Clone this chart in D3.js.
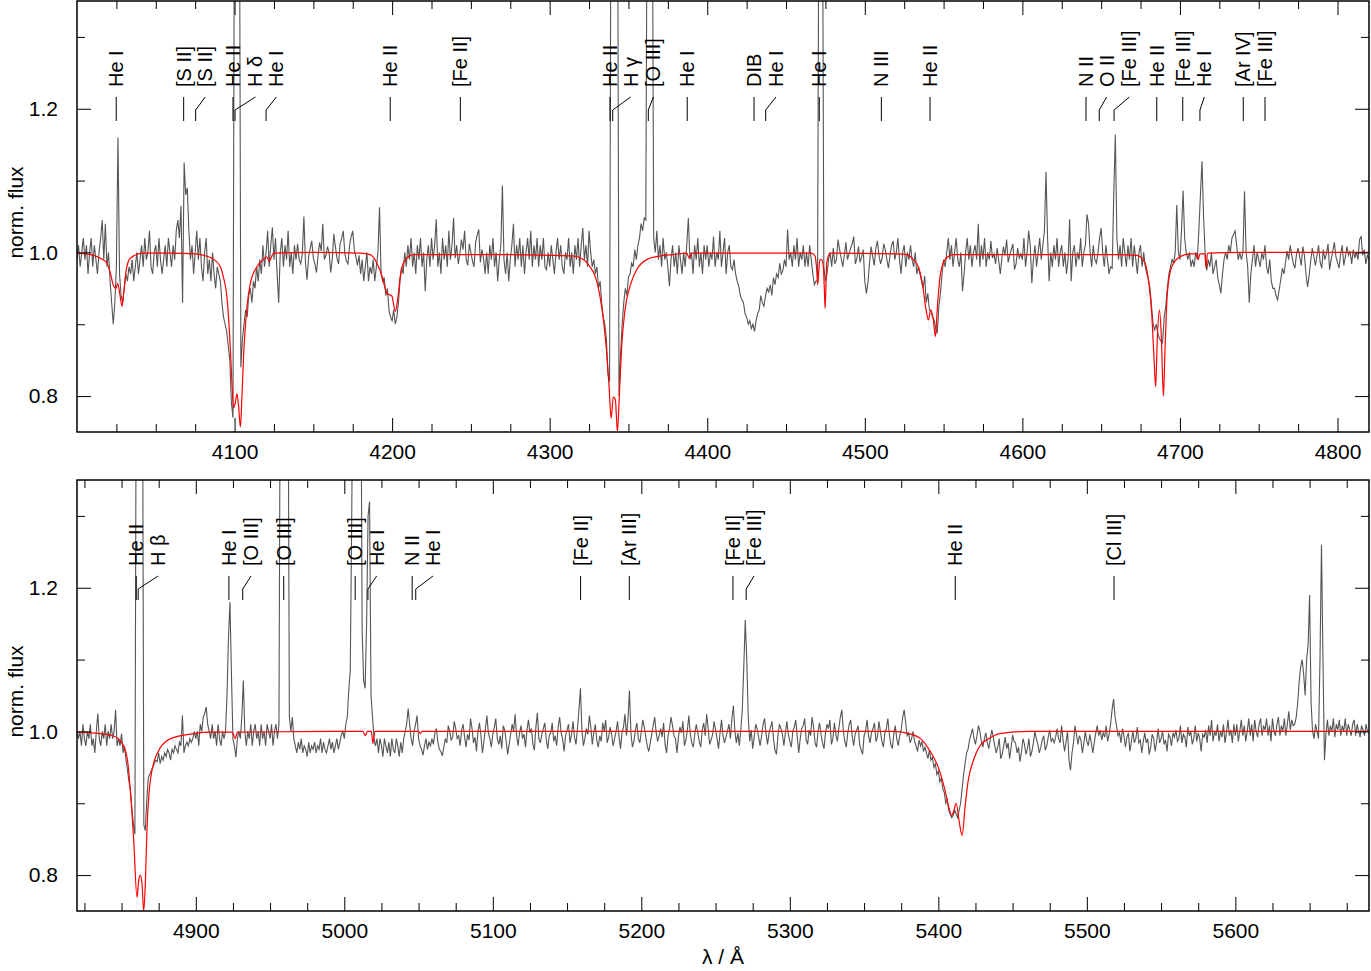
<!DOCTYPE html>
<html>
<head>
<meta charset="utf-8">
<script src="https://cdn.jsdelivr.net/npm/d3@7"></script>
<style>
  body { margin: 0; background: #fff; }
  svg { display: block; font-family: "Liberation Sans", Arial, Helvetica, sans-serif; }
</style>
</head>
<body>
<svg id="chart" width="1371" height="971"></svg>
<script>
// observed spectrum, one value per 1 A from the panel start (20 A per row)
var top_start = 4000;
var top_step = 1;
var top_flux = [
  0.99, 1.01, 0.98, 1.00, 1.02, 0.99, 1.01, 0.97, 1.00, 1.02, 0.98, 1.01, 0.99, 0.97, 1.00, 1.02, 1.045, 0.99, 1.04, 0.98,
  1.00, 0.96, 0.93, 0.90, 0.93, 0.98, 1.16, 0.97, 0.94, 0.93, 0.95, 0.97, 0.96, 0.98, 0.97, 0.99, 0.96, 0.98, 1.00, 0.97,
  0.99, 1.01, 0.98, 1.02, 0.99, 1.00, 1.03, 0.98, 0.97, 1.00, 1.01, 0.98, 1.02, 0.99, 0.97, 0.99, 1.01, 0.98, 1.02, 1.00,
  0.98, 1.01, 0.99, 1.03, 1.045, 1.02, 1.065, 0.93, 1.125, 1.08, 1.09, 1.03, 0.99, 1.01, 0.97, 1.00, 1.03, 0.99, 1.02, 0.98,
  0.96, 1.00, 1.02, 0.97, 0.99, 0.96, 1.00, 0.97, 0.95, 0.98, 0.97, 0.96, 0.93, 0.91, 0.90, 0.89, 0.87, 0.85, 0.79, 0.77,
  1.60, 1.60, 1.60, 1.60, 0.84, 0.88, 0.90, 0.92, 0.91, 0.94, 0.95, 0.93, 0.96, 0.95, 0.98, 0.96, 0.99, 0.97, 1.01, 0.98,
  1.00, 1.03, 0.98, 1.01, 1.035, 0.99, 1.02, 0.97, 0.93, 1.00, 1.02, 0.98, 1.01, 0.99, 1.03, 0.98, 1.00, 0.97, 1.01, 0.99,
  1.012, 0.990, 0.984, 0.998, 1.050, 0.986, 0.962, 0.994, 1.006, 1.016, 0.992, 0.984, 0.972, 0.996, 1.014, 1.002, 1.040, 0.990, 0.996, 1.008,
  1.000, 0.972, 0.990, 1.026, 1.008, 0.992, 0.984, 1.012, 1.020, 1.030, 0.998, 0.988, 0.984, 1.010, 1.022, 1.030, 1.004, 0.994, 0.982, 0.996,
  0.97, 0.99, 0.96, 0.98, 1.00, 0.96, 0.98, 0.97, 0.99, 0.96, 0.98, 1.00, 1.063, 0.97, 0.96, 0.965, 0.94, 0.95, 0.92, 0.91,
  0.905, 0.92, 0.90, 0.91, 0.93, 0.96, 0.98, 0.97, 1.00, 0.98, 1.01, 0.99, 1.02, 0.98, 1.00, 0.97, 1.01, 0.99, 1.02, 0.98,
  1.00, 0.946, 0.99, 1.01, 0.98, 1.02, 0.99, 1.01, 1.046, 0.98, 1.00, 0.97, 1.02, 0.99, 1.01, 0.98, 1.03, 0.99, 1.01, 1.048,
  0.992, 1.010, 0.984, 0.998, 1.018, 1.004, 1.030, 0.990, 0.982, 1.012, 1.000, 0.988, 0.980, 1.014, 1.024, 1.032, 0.986, 1.004, 0.992, 0.970,
  1.00, 0.97, 1.01, 0.99, 1.02, 0.98, 1.00, 0.96, 0.99, 1.01, 1.093, 0.99, 0.97, 1.00, 0.96, 0.99, 1.01, 1.04, 0.98, 1.01,
  0.99, 1.02, 0.98, 1.01, 0.97, 1.00, 1.02, 0.99, 1.03, 0.98, 1.01, 0.99, 1.02, 0.98, 1.01, 0.99, 1.02, 0.98, 0.976, 1.00,
  0.98, 1.01, 0.99, 0.97, 1.00, 1.02, 0.99, 1.01, 0.98, 0.97, 1.00, 0.99, 1.02, 0.98, 1.00, 0.97, 1.01, 0.99, 1.02, 0.98,
  1.01, 1.034, 0.99, 1.01, 0.98, 1.03, 1.00, 0.98, 0.99, 0.97, 0.98, 0.95, 0.96, 0.93, 0.91, 0.90, 0.88, 0.83, 0.82, 1.60,
  1.60, 1.60, 1.60, 1.60, 0.80, 0.86, 0.90, 0.93, 0.95, 0.94, 0.966, 0.97, 0.985, 0.98, 1.004, 0.99, 1.01, 1.02, 1.04, 1.03,
  1.048, 1.045, 1.60, 1.60, 1.60, 1.60, 1.02, 1.00, 1.03, 0.99, 1.01, 0.98, 1.02, 0.99, 1.00, 0.98, 0.953, 0.99, 1.01, 0.98,
  1.00, 0.97, 1.01, 0.99, 0.97, 1.00, 0.98, 1.01, 1.048, 0.99, 1.00, 0.97, 1.01, 0.99, 1.02, 0.98, 1.00, 0.97, 1.01, 0.99,
  1.01, 0.98, 1.00, 0.99, 1.022, 0.98, 1.00, 0.99, 1.03, 0.98, 1.00, 1.02, 0.97, 1.00, 1.01, 0.98, 0.976, 0.99, 0.97, 0.96,
  0.953, 0.94, 0.934, 0.93, 0.915, 0.91, 0.90, 0.905, 0.894, 0.90, 0.89, 0.905, 0.915, 0.92, 0.94, 0.93, 0.925, 0.94, 0.95, 0.945,
  0.955, 0.94, 0.965, 0.955, 0.97, 0.965, 0.985, 0.97, 0.975, 0.99, 0.98, 1.032, 0.99, 1.00, 0.98, 1.01, 0.99, 1.02, 0.98, 1.00,
  0.99, 1.01, 0.98, 1.00, 0.98, 1.01, 0.99, 0.97, 0.955, 0.96, 0.96, 1.60, 1.60, 1.60, 0.98, 0.96, 0.97, 0.99, 1.00, 0.98,
  1.006, 0.984, 0.990, 1.018, 1.004, 0.992, 0.980, 0.996, 1.014, 0.990, 0.998, 1.006, 1.012, 1.022, 0.984, 0.992, 1.008, 0.986, 0.994, 1.004,
  0.960, 0.943, 0.958, 0.986, 1.008, 0.994, 0.982, 1.006, 1.016, 0.996, 0.984, 0.992, 1.012, 1.004, 0.990, 0.978, 0.996, 1.010, 1.016, 0.990,
  1.00, 1.02, 0.99, 0.97, 1.00, 1.01, 0.98, 1.00, 0.99, 1.01, 0.99, 0.98, 1.00, 0.97, 0.98, 0.97, 0.96, 0.95, 0.967, 0.93,
  0.943, 0.92, 0.918, 0.91, 0.906, 0.894, 0.887, 0.925, 0.943, 0.97, 0.99, 0.98, 1.00, 1.02, 0.99, 1.01, 0.98, 1.00, 1.02, 0.99,
  0.98, 1.00, 0.946, 0.97, 1.00, 1.02, 0.99, 1.01, 0.98, 1.00, 1.01, 0.99, 1.04, 0.98, 1.01, 0.99, 1.02, 0.98, 1.00, 0.99,
  1.016, 0.992, 0.998, 0.984, 1.006, 0.988, 0.970, 0.992, 1.008, 0.996, 1.018, 0.986, 0.996, 1.004, 1.012, 0.976, 0.984, 1.006, 0.992, 0.998,
  0.99, 1.02, 0.98, 1.00, 1.03, 1.01, 0.957, 0.99, 1.01, 0.98, 1.00, 1.02, 0.99, 1.01, 1.03, 1.112, 1.02, 0.96, 1.00, 0.98,
  1.01, 0.99, 1.02, 0.98, 1.00, 1.01, 0.98, 1.00, 0.97, 0.99, 1.046, 0.96, 1.00, 1.01, 0.98, 1.00, 0.99, 1.02, 0.98, 1.00,
  1.01, 1.053, 1.04, 1.00, 0.98, 1.01, 0.99, 0.985, 1.00, 1.02, 1.034, 1.00, 0.98, 1.01, 0.99, 0.97, 0.98, 0.978, 1.08, 1.164,
  1.02, 0.99, 1.01, 0.98, 1.02, 1.00, 0.98, 1.01, 0.99, 1.02, 0.98, 1.01, 0.99, 0.97, 1.00, 1.01, 0.98, 1.00, 0.98, 0.97,
  0.962, 0.95, 0.925, 0.90, 0.892, 0.90, 0.887, 0.88, 0.876, 0.874, 0.91, 0.925, 0.95, 0.97, 0.98, 0.99, 0.985, 1.00, 1.066, 1.00,
  0.99, 1.03, 1.086, 1.02, 1.00, 0.99, 1.00, 0.98, 0.99, 0.98, 1.00, 0.99, 1.03, 1.08, 1.127, 1.05, 1.00, 0.975, 0.99, 0.98,
  1.00, 0.97, 0.98, 0.99, 0.965, 0.955, 0.943, 0.97, 0.99, 1.00, 0.99, 1.01, 1.00, 1.02, 1.025, 1.03, 1.01, 0.99, 1.00, 0.99,
  1.00, 1.085, 1.00, 0.98, 0.93, 0.97, 0.99, 1.01, 0.98, 1.00, 0.99, 0.98, 1.00, 0.99, 1.01, 0.98, 0.97, 0.99, 0.96, 0.95,
  0.950, 0.940, 0.934, 0.948, 0.962, 0.978, 0.970, 0.986, 1.002, 0.990, 1.010, 0.996, 0.984, 0.978, 0.998, 1.006, 0.994, 0.982, 1.008, 0.996,
  0.970, 0.952, 0.968, 0.988, 1.006, 0.994, 0.982, 0.996, 1.010, 0.986, 0.978, 1.004, 0.990, 0.998, 1.012, 0.976, 0.990, 1.002, 1.014, 0.994,
  0.986, 0.978, 0.998, 1.010, 0.982, 0.994, 1.008, 0.996, 1.002, 0.984, 1.004, 0.992, 1.000, 0.990, 1.018, 1.022, 0.996, 1.004, 0.984, 0.996,
  0.990
];

var bottom_start = 4820;
var bottom_step = 1;
var bottom_flux = [
  1.00, 0.99, 1.00, 0.98, 1.01, 0.99, 0.98, 1.00, 0.99, 1.01, 0.98, 0.99, 0.97, 1.00, 1.025, 0.99, 0.98, 1.00, 0.99, 1.01,
  0.98, 1.00, 0.99, 1.01, 0.99, 1.00, 1.03, 0.98, 0.99, 0.98, 0.997, 0.97, 0.98, 0.96, 0.946, 0.93, 0.918, 0.89, 0.871, 0.857,
  1.60, 1.60, 1.60, 1.60, 1.60, 0.87, 0.862, 0.904, 0.936, 0.94, 0.945, 0.95, 0.955, 0.96, 0.958, 0.97, 0.955, 0.965, 0.96, 0.97,
  0.965, 0.975, 0.97, 0.96, 0.975, 0.97, 0.98, 0.975, 0.97, 0.985, 0.98, 1.022, 0.97, 0.98, 0.985, 0.98, 0.99, 0.985, 0.99, 1.00,
  0.99, 1.00, 0.98, 1.01, 1.00, 1.02, 1.025, 1.034, 1.01, 1.00, 0.99, 1.01, 0.99, 1.00, 0.98, 1.01, 0.99, 0.98, 1.00, 0.99,
  1.00, 1.05, 1.13, 1.18, 1.08, 0.99, 0.98, 0.964, 0.99, 1.00, 0.99, 1.02, 1.071, 1.00, 0.98, 1.00, 0.99, 1.01, 0.98, 1.00,
  1.01, 0.99, 1.00, 0.98, 1.01, 0.99, 1.00, 0.98, 1.01, 1.00, 0.99, 1.01, 0.98, 1.00, 1.01, 0.99, 1.01, 1.60, 1.60, 1.60,
  1.60, 1.60, 1.60, 1.02, 1.00, 1.02, 0.99, 0.98, 0.97, 0.985, 0.975, 0.99, 0.97, 0.98, 0.975, 0.965, 0.985, 0.97, 0.98, 0.975,
  0.985, 0.97, 0.98, 0.975, 0.99, 0.97, 0.985, 0.975, 0.97, 0.98, 0.99, 0.975, 0.985, 0.97, 0.98, 0.99, 0.975, 0.985, 0.995, 1.00,
  0.99, 1.01, 1.02, 1.057, 1.085, 1.30, 1.60, 1.60, 1.60, 1.60, 1.60, 1.60, 1.14, 1.071, 1.06, 1.15, 1.30, 1.32, 1.05, 1.02,
  0.99, 0.98, 0.99, 0.97, 0.99, 0.98, 0.965, 0.99, 0.98, 0.97, 0.985, 0.965, 0.99, 0.975, 0.97, 0.99, 0.98, 0.965, 0.985, 0.97,
  0.99, 1.00, 1.01, 1.032, 1.01, 0.99, 0.98, 1.00, 1.01, 1.022, 0.99, 0.98, 0.975, 0.967, 0.98, 0.99, 0.975, 0.985, 0.98, 0.99,
  0.982, 0.998, 1.004, 0.985, 0.975, 0.972, 0.966, 0.978, 0.990, 0.984, 1.008, 1.000, 0.988, 0.992, 1.014, 1.004, 0.990, 0.994, 0.980, 1.002,
  1.010, 0.992, 0.978, 0.996, 0.988, 1.018, 1.004, 0.984, 0.992, 0.972, 1.000, 1.012, 0.994, 0.970, 0.986, 1.004, 1.022, 0.998, 0.990, 0.978,
  0.996, 1.006, 1.018, 0.990, 0.982, 0.994, 0.976, 1.008, 1.002, 0.986, 0.968, 0.982, 0.996, 1.010, 1.000, 1.024, 0.994, 0.980, 0.998, 1.008,
  0.990, 0.996, 0.978, 1.002, 1.016, 0.998, 1.004, 0.982, 0.974, 1.006, 1.026, 0.990, 0.984, 0.996, 1.004, 1.012, 0.988, 0.976, 0.994, 0.998,
  1.012, 0.986, 0.994, 0.980, 1.006, 1.020, 0.998, 0.990, 0.972, 0.994, 1.002, 1.010, 0.984, 0.996, 1.014, 0.992, 0.982, 1.004, 1.030, 1.060,
  1.002, 0.980, 0.990, 1.004, 0.996, 1.022, 1.006, 0.982, 0.998, 1.010, 0.988, 0.978, 0.994, 0.986, 1.012, 1.000, 1.016, 0.984, 0.992, 1.006,
  0.996, 0.980, 0.990, 1.000, 1.014, 0.992, 0.976, 0.998, 1.006, 1.024, 0.994, 1.016, 1.057, 0.998, 0.978, 0.986, 1.002, 1.012, 0.990, 0.984,
  1.000, 1.016, 1.006, 0.992, 0.980, 0.972, 0.984, 0.996, 1.008, 1.020, 0.998, 0.986, 0.994, 1.004, 0.992, 1.012, 0.982, 0.970, 0.994, 1.004,
  1.020, 1.008, 0.994, 0.990, 0.970, 0.992, 1.006, 0.998, 1.014, 0.980, 0.988, 1.002, 1.022, 0.996, 0.984, 0.978, 0.996, 1.010, 0.998, 0.986,
  0.978, 1.002, 1.012, 0.994, 1.024, 1.004, 0.982, 0.988, 0.996, 1.014, 1.002, 0.990, 0.976, 0.998, 1.016, 0.994, 0.984, 0.992, 1.000, 1.010,
  0.990, 1.018, 1.036, 1.000, 0.984, 0.998, 0.980, 1.002, 1.030, 1.090, 1.155, 1.100, 1.020, 0.986, 1.002, 0.976, 0.992, 1.010, 1.004, 0.992,
  0.980, 0.994, 1.010, 1.018, 0.996, 0.982, 0.998, 1.006, 1.014, 0.990, 0.974, 0.968, 0.994, 1.010, 1.004, 0.996, 0.980, 0.998, 1.014, 0.996,
  0.986, 0.978, 1.000, 1.006, 1.016, 0.992, 0.970, 0.990, 1.004, 1.008, 1.018, 0.988, 0.982, 1.002, 0.994, 1.020, 1.006, 0.984, 0.978, 1.000,
  1.012, 0.996, 0.984, 0.976, 0.998, 1.010, 1.004, 1.016, 0.982, 0.990, 1.012, 0.996, 0.986, 1.004, 1.020, 1.030, 1.002, 0.986, 0.978, 0.998,
  1.010, 1.016, 0.994, 0.980, 0.996, 1.002, 1.008, 0.982, 0.974, 0.968, 0.994, 1.000, 1.016, 0.994, 0.984, 0.998, 1.004, 1.012, 0.986, 0.992,
  1.014, 1.000, 0.986, 0.978, 0.998, 1.004, 1.018, 0.996, 0.982, 0.976, 0.996, 1.008, 0.990, 0.980, 0.994, 1.002, 1.020, 1.030, 1.012, 0.994,
  0.998, 0.984, 0.990, 1.000, 0.986, 0.980, 0.972, 0.988, 0.980, 0.986, 0.972, 0.978, 0.970, 0.962, 0.974, 0.960, 0.964, 0.950, 0.955, 0.940,
  0.945, 0.93, 0.935, 0.92, 0.915, 0.90, 0.905, 0.89, 0.885, 0.88, 0.883, 0.89, 0.885, 0.88, 0.89, 0.90, 0.92, 0.94, 0.955, 0.97,
  0.975, 0.988, 0.996, 1.004, 0.990, 0.982, 0.994, 1.008, 1.000, 0.986, 0.978, 0.990, 0.998, 0.984, 0.976, 0.990, 1.002, 0.992, 0.980, 0.970,
  0.978, 0.990, 0.962, 0.968, 0.980, 0.992, 0.976, 0.984, 0.962, 0.978, 0.995, 0.986, 0.984, 0.970, 0.978, 0.958, 0.972, 0.990, 0.982, 0.968,
  0.976, 0.990, 0.965, 0.972, 0.984, 1.000, 0.990, 0.982, 0.970, 0.978, 0.988, 0.994, 0.974, 0.980, 0.992, 1.002, 0.986, 0.990, 0.984, 0.992,
  1.004, 0.990, 0.984, 1.008, 0.988, 0.972, 0.986, 1.000, 0.960, 0.946, 0.970, 0.984, 1.008, 0.996, 0.982, 0.994, 0.988, 0.970, 0.984, 1.000,
  0.986, 0.980, 0.996, 0.984, 0.970, 0.984, 0.998, 1.008, 0.994, 1.002, 0.988, 0.998, 0.992, 1.008, 0.986, 0.996, 1.010, 1.030, 1.045, 1.020,
  1.008, 0.994, 0.998, 0.984, 1.004, 0.994, 0.978, 0.992, 0.998, 0.972, 0.986, 1.000, 0.984, 0.990, 1.006, 0.984, 0.988, 0.970, 0.986, 0.998,
  0.984, 0.990, 0.968, 0.978, 0.996, 0.990, 0.972, 0.986, 1.004, 0.984, 0.990, 1.000, 0.982, 0.988, 0.972, 0.996, 0.992, 0.980, 0.998, 0.992,
  1.002, 0.986, 0.990, 1.008, 0.984, 0.996, 0.992, 0.978, 1.006, 0.994, 1.000, 0.982, 0.990, 1.008, 0.986, 0.998, 0.990, 0.972, 0.996, 0.992,
  1.002, 0.984, 1.008, 0.994, 1.016, 0.986, 1.000, 0.994, 1.010, 0.986, 1.000, 0.992, 1.010, 0.984, 0.998, 1.016, 0.994, 1.002, 0.984, 1.010,
  0.994, 1.010, 0.986, 1.000, 1.016, 0.994, 1.008, 0.986, 1.000, 1.018, 0.994, 1.010, 0.986, 1.016, 1.000, 0.992, 1.010, 1.018, 0.994, 1.008,
  1.002, 1.018, 0.994, 1.008, 0.986, 1.018, 1.000, 0.994, 1.010, 1.020, 0.994, 1.008, 1.000, 1.018, 0.994, 1.010, 1.028, 1.002, 1.016, 1.008,
  1.01, 1.02, 1.04, 1.07, 1.09, 1.10, 1.08, 1.05, 1.10, 1.12, 1.19, 1.04, 1.00, 0.99, 1.01, 1.00, 0.99, 1.10, 1.26, 1.10,
  0.960, 0.996, 1.016, 0.994, 1.008, 1.000, 1.018, 0.992, 1.010, 1.002, 1.016, 0.994, 1.008, 1.000, 1.018, 0.994, 1.010, 1.002, 0.994, 1.010,
  1.016, 0.994, 1.010, 1.000, 0.992, 1.008, 1.002, 0.994, 1.010, 1.000, 1.000
];

// model spectrum, [wavelength, flux]
var top_model = [
  [4000, 0.999], [4008.5, 0.997], [4014.8, 0.992], [4019, 0.985], [4021.2, 0.971],
  [4023.3, 0.953], [4024.8, 0.95], [4025.8, 0.957], [4027.1, 0.943], [4028.6, 0.925],
  [4029.6, 0.943], [4031.3, 0.976], [4033.8, 0.992], [4042, 0.999], [4060, 0.999],
  [4075, 0.998], [4082, 0.995], [4087, 0.99], [4091, 0.98], [4093, 0.965],
  [4095.2, 0.937], [4097.3, 0.867], [4098.3, 0.82], [4099.4, 0.784], [4100.4, 0.79],
  [4101.5, 0.803], [4102.6, 0.785], [4103.7, 0.757], [4104.7, 0.8], [4105.8, 0.86],
  [4107.9, 0.925], [4110, 0.957], [4114.2, 0.98], [4118, 0.99], [4120.6, 0.994],
  [4121.8, 0.988], [4122.7, 0.99], [4124.8, 0.999], [4150, 1.0], [4180, 0.999],
  [4186, 0.997], [4190.4, 0.985], [4193.6, 0.967], [4196.7, 0.943], [4198.4, 0.941],
  [4199.9, 0.939], [4201, 0.927], [4202, 0.918], [4203.5, 0.934], [4205.2, 0.967],
  [4208.4, 0.99], [4213.7, 0.997], [4260, 0.997], [4300, 0.996], [4315, 0.995],
  [4321.4, 0.99], [4325.6, 0.98], [4328.8, 0.967], [4331.6, 0.943], [4334.1, 0.906],
  [4336.2, 0.86], [4337.7, 0.813], [4339, 0.769], [4340.4, 0.799], [4341.7, 0.795],
  [4343, 0.75], [4344.2, 0.8], [4345.7, 0.869], [4347.8, 0.92], [4351, 0.953],
  [4355.2, 0.976], [4361.6, 0.99], [4370, 0.995], [4378.5, 0.997], [4387, 0.999],
  [4388.5, 0.992], [4390, 0.999], [4466, 0.999], [4468.4, 0.995], [4469.5, 0.975],
  [4470.1, 0.955], [4470.8, 0.975], [4471.5, 0.99], [4472.5, 0.99], [4473.7, 0.98],
  [4474.3, 0.95], [4474.8, 0.922], [4475.3, 0.95], [4475.8, 0.985], [4478, 0.999],
  [4520, 0.998], [4526.6, 0.997], [4530.8, 0.99], [4534, 0.98], [4536.8, 0.953],
  [4538.9, 0.92], [4540.4, 0.906], [4541.8, 0.92], [4543.5, 0.906], [4544.8, 0.883],
  [4546.1, 0.925], [4547.8, 0.967], [4550.9, 0.99], [4556.2, 0.997], [4660, 0.997],
  [4672.6, 0.996], [4674.7, 0.994], [4677.9, 0.985], [4680, 0.962], [4682.1, 0.915],
  [4683.6, 0.85], [4684.6, 0.813], [4685.7, 0.883], [4687, 0.92], [4688.2, 0.883],
  [4689.5, 0.8], [4690.6, 0.869], [4692, 0.943], [4694.8, 0.98], [4700, 0.994],
  [4706.4, 0.998], [4710.8, 0.998], [4711.7, 0.99], [4712.6, 0.998], [4715.8, 0.998],
  [4716.6, 0.978], [4717.5, 0.999], [4740, 1.0], [4820, 1.0]
];

var bottom_model = [
  [4820, 0.999], [4830, 0.998], [4842.4, 0.995], [4849.2, 0.987], [4853.7, 0.964],
  [4855.9, 0.918], [4858.2, 0.848], [4860.4, 0.769], [4861.5, 0.792], [4862.6, 0.80],
  [4863.8, 0.788], [4864.9, 0.75], [4866, 0.788], [4867.1, 0.862], [4869.4, 0.932],
  [4873.9, 0.969], [4882.9, 0.99], [4898.6, 0.997], [4909.8, 0.999], [4924.5, 0.999],
  [4926.6, 0.99], [4928, 0.999], [5012.5, 1.0], [5014.2, 0.994], [5015.5, 1.0],
  [5018.2, 1.0], [5019.3, 0.983], [5020.5, 1.0], [5050, 1.0], [5051.2, 0.997],
  [5052.4, 1.0], [5370, 1.0], [5380, 0.997], [5388, 0.99], [5394, 0.974],
  [5400, 0.95], [5404.5, 0.918], [5407, 0.895], [5409, 0.883], [5410.5, 0.89],
  [5412, 0.9], [5414, 0.875], [5416, 0.855], [5418, 0.895], [5420, 0.93],
  [5424, 0.962], [5428, 0.98], [5434, 0.99], [5441.5, 0.997], [5460, 1.0],
  [5690, 1.0]
];

// line identifications: [name, line wavelength, label wavelength]
var top_lines = [
  ["He I", 4024.9, 4024.9], ["[S II]", 4067.7, 4067.7], ["[S II]", 4075.3, 4081.4],
  ["He II", 4099.0, 4099.0], ["H \u03b4", 4100.3, 4113.2], ["He I", 4120.0, 4126.5],
  ["He II", 4198.8, 4198.8], ["[Fe II]", 4243.3, 4243.3], ["He II", 4338.3, 4338.3],
  ["H \u03b3", 4340.0, 4351.4], ["[O III]", 4362.6, 4365.8], ["He I", 4387.3, 4387.3],
  ["DIB", 4429.7, 4429.7], ["He I", 4437.1, 4443.6], ["He I", 4471.1, 4471.1],
  ["N III", 4510.5, 4510.5], ["He II", 4541.4, 4541.4], ["N II", 4640.4, 4640.4],
  ["O II", 4648.8, 4653.5], ["[Fe III]", 4658.2, 4667.9], ["He II", 4685.3, 4685.3],
  ["[Fe III]", 4701.8, 4701.8], ["He I", 4712.7, 4715.5], ["[Ar IV]", 4740.2, 4740.2],
  ["[Fe III]", 4754.0, 4754.0]
];
var bottom_lines = [
  ["He II", 4859.9, 4859.9], ["H \u03b2", 4861.2, 4874.6], ["He I", 4922.3, 4922.3],
  ["[O III]", 4931.6, 4937.2], ["[O III]", 4959.2, 4959.2], ["[O III]", 5007.3, 5007.3],
  ["He I", 5015.9, 5021.8], ["N II", 5045.7, 5045.7], ["He I", 5048.1, 5059.7],
  ["[Fe II]", 5159.1, 5159.1], ["[Ar III]", 5191.9, 5191.9], ["[Fe II]", 5261.7, 5261.7],
  ["[Fe III]", 5270.6, 5275.9], ["He II", 5411.4, 5411.4], ["[Cl III]", 5518.3, 5518.3]
];

var top_ticks = [4100, 4200, 4300, 4400, 4500, 4600, 4700, 4800];
var bottom_ticks = [4900, 5000, 5100, 5200, 5300, 5400, 5500, 5600];
var y_ticks = [0.8, 1.0, 1.2];
var y_minor = [0.9, 1.1, 1.3];

var left = 77, right = 1369;
var svg = d3.select("#chart");

function draw_panel(name, top, bottom, domain, ticks, start, step, flux, model, lines, show_title) {
  var x = d3.scaleLinear().domain(domain).range([left, right]);
  var y = d3.scaleLinear().domain([0.75, 1.35]).range([bottom, top]);
  var g = svg.append("g");

  g.append("clipPath").attr("id", "clip_" + name)
    .append("rect")
    .attr("x", left).attr("y", top)
    .attr("width", right - left).attr("height", bottom - top);

  // observed spectrum
  var obs = flux.map(function(f, i) { return [start + i * step, f]; });
  var line = d3.line()
    .x(function(d) { return x(d[0]); })
    .y(function(d) { return y(d[1]); });
  g.append("path")
    .attr("clip-path", "url(#clip_" + name + ")")
    .attr("d", line(obs))
    .attr("fill", "none")
    .attr("stroke", "#555")
    .attr("stroke-width", 1.1);

  // model
  var model_line = d3.line()
    .curve(d3.curveMonotoneX)
    .x(function(d) { return x(d[0]); })
    .y(function(d) { return y(d[1]); });
  g.append("path")
    .attr("clip-path", "url(#clip_" + name + ")")
    .attr("d", model_line(model))
    .attr("fill", "none")
    .attr("stroke", "#ff0000")
    .attr("stroke-width", 1.2);

  // minor x ticks every 25 A
  var x_minor = d3.range(Math.ceil(domain[0] / 25) * 25, domain[1], 25)
    .filter(function(v) { return v % 100 !== 0 && v > domain[0]; });

  function style_axis(sel) {
    sel.select(".domain").remove();
    sel.selectAll("line").attr("stroke", "#000");
    sel.attr("font-size", 21).attr("font-family", null);
    sel.selectAll("text").attr("fill", "#000");
  }

  g.append("g").attr("transform", "translate(0," + bottom + ")")
    .call(d3.axisBottom(x).tickValues(ticks).tickSize(-14).tickPadding(12)
      .tickFormat(d3.format("d")))
    .call(style_axis);
  g.append("g").attr("transform", "translate(0," + bottom + ")")
    .call(d3.axisBottom(x).tickValues(x_minor).tickSize(-8).tickFormat(""))
    .call(style_axis);
  g.append("g").attr("transform", "translate(0," + top + ")")
    .call(d3.axisTop(x).tickValues(ticks).tickSize(-14).tickFormat(""))
    .call(style_axis);
  g.append("g").attr("transform", "translate(0," + top + ")")
    .call(d3.axisTop(x).tickValues(x_minor).tickSize(-8).tickFormat(""))
    .call(style_axis);

  g.append("g").attr("transform", "translate(" + left + ",0)")
    .call(d3.axisLeft(y).tickValues(y_ticks).tickSize(-14).tickPadding(19)
      .tickFormat(d3.format(".1f")))
    .call(style_axis);
  g.append("g").attr("transform", "translate(" + left + ",0)")
    .call(d3.axisLeft(y).tickValues(y_minor).tickSize(-8).tickFormat(""))
    .call(style_axis);
  g.append("g").attr("transform", "translate(" + right + ",0)")
    .call(d3.axisRight(y).tickValues(y_ticks).tickSize(-14).tickFormat(""))
    .call(style_axis);
  g.append("g").attr("transform", "translate(" + right + ",0)")
    .call(d3.axisRight(y).tickValues(y_minor).tickSize(-8).tickFormat(""))
    .call(style_axis);

  // frame
  g.append("rect")
    .attr("x", left).attr("y", top)
    .attr("width", right - left).attr("height", bottom - top)
    .attr("fill", "none")
    .attr("stroke", "#000")
    .attr("stroke-width", 1.5);

  // line identifications
  var marks = g.append("g");
  lines.forEach(function(d) {
    var xl = x(d[1]), xt = x(d[2]);
    var p;
    if (Math.abs(xt - xl) < 0.5) {
      p = "M" + xl + "," + (top + 96) + "V" + (top + 120);
    } else {
      p = "M" + xt + "," + (top + 96) + "L" + xl + "," + (top + 109) + "V" + (top + 120);
    }
    marks.append("path")
      .attr("d", p)
      .attr("fill", "none")
      .attr("stroke", "#000")
      .attr("stroke-width", 1);
    marks.append("text")
      .attr("transform", "translate(" + xt + "," + (top + 86) + ") rotate(-90)")
      .attr("dy", "0.35em")
      .attr("font-size", 20)
      .text(d[0]);
  });

  // y title
  g.append("text")
    .attr("transform", "translate(23," + ((top + bottom) / 2 - 4) + ") rotate(-90)")
    .attr("text-anchor", "middle")
    .attr("font-size", 21)
    .text("norm. flux");

  if (show_title) {
    g.append("text")
      .attr("x", (left + right) / 2)
      .attr("y", 964)
      .attr("text-anchor", "middle")
      .attr("font-size", 21)
      .text("\u03bb / \u00c5");
  }
}

draw_panel("top", 1, 432, [4000, 4820], top_ticks, top_start, top_step,
  top_flux, top_model, top_lines, false);
draw_panel("bottom", 480, 911, [4820, 5690], bottom_ticks, bottom_start, bottom_step,
  bottom_flux, bottom_model, bottom_lines, true);
</script>
</body>
</html>
